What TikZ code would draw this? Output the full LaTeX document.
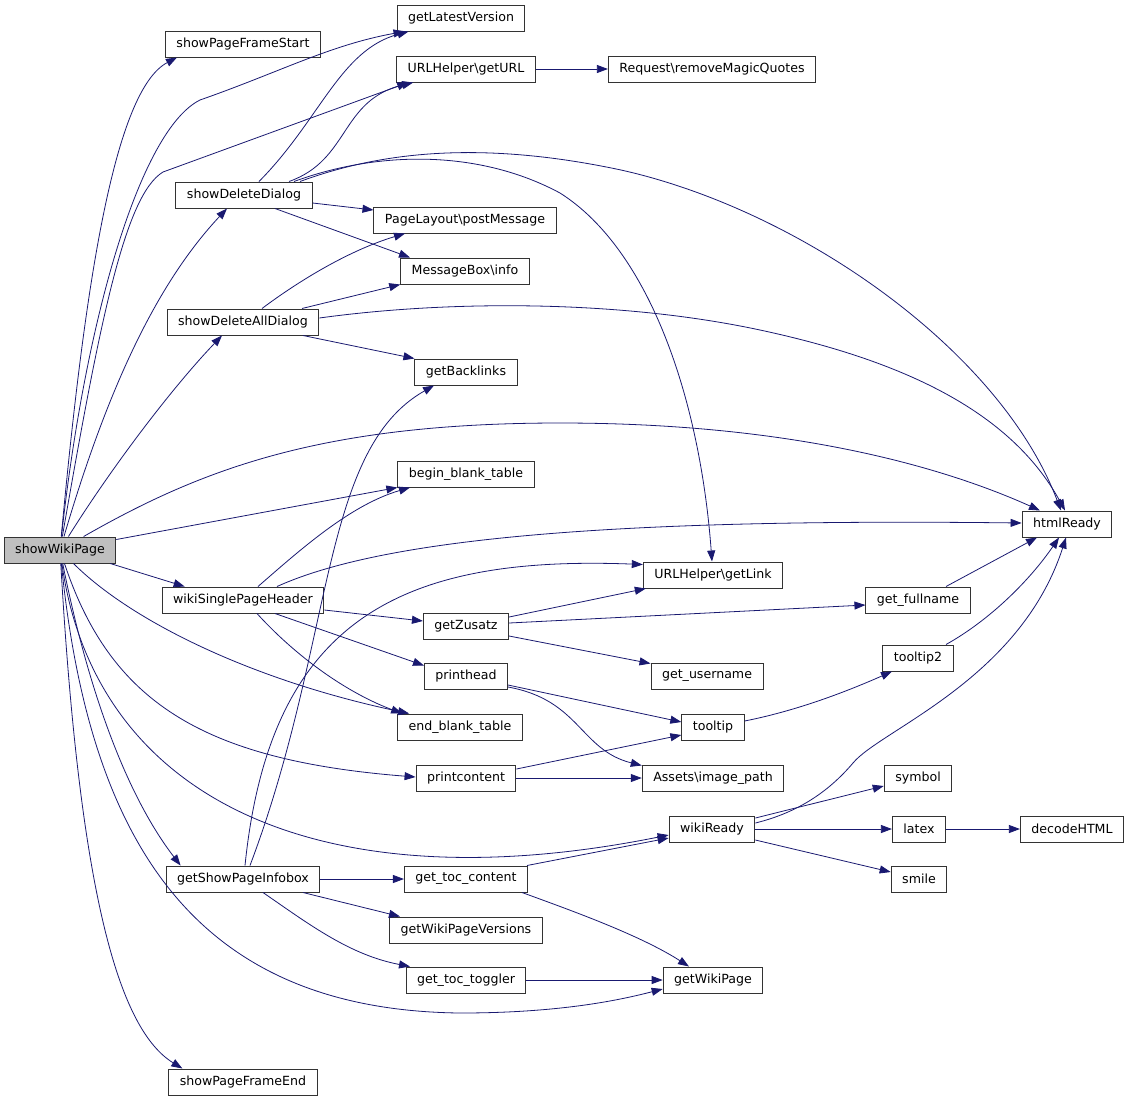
\documentclass[tikz,border=0pt]{standalone}
\usepackage{fontspec}
\setmainfont{DejaVu Sans}
\usetikzlibrary{arrows.meta}
\definecolor{edgeblue}{HTML}{191970}
\definecolor{rootgray}{HTML}{BFBFBF}

\begin{document}
\begin{tikzpicture}[x=1pt,y=-1pt,>={Triangle[length=11pt,width=8pt]}]
    \tikzstyle{func}=[draw=black!80,fill=white,line width=1pt,minimum height=26pt,inner xsep=11pt,inner ysep=0pt,font=\fontsize{12.6}{14}\selectfont]
    \tikzstyle{root func}=[func, fill=rootgray]
    \tikzstyle{call}=[->,draw=edgeblue,line width=0.8pt]

    \useasboundingbox (0,0) rectangle (1131,1101);

    % Draw the caller
    \node[root func] (showWikiPage) at (60,550) {showWikiPage};

    % Draw the first column of callees
    \node[func] (showPageFrameStart) at (243,44) {showPageFrameStart};
    \node[func] (showDeleteDialog) at (244,195) {showDeleteDialog};
    \node[func] (showDeleteAllDialog) at (243,322) {showDeleteAllDialog};
    \node[func] (wikiSinglePageHeader) at (243,600) {wikiSinglePageHeader};
    \node[func] (getShowPageInfobox) at (243,879) {getShowPageInfobox};
    \node[func] (showPageFrameEnd) at (243,1082) {showPageFrameEnd};

    % Draw the second column
    \node[func] (getLatestVersion) at (461,18) {getLatestVersion};
    \node[func] (urlGetURL) at (466,69) {URLHelper\textbackslash getURL};
    \node[func] (postMessage) at (465,220) {PageLayout\textbackslash postMessage};
    \node[func] (info) at (465,271) {MessageBox\textbackslash info};
    \node[func] (getBacklinks) at (466,372) {getBacklinks};
    \node[func] (beginBlankTable) at (466,474) {begin\_blank\_table};
    \node[func] (getZusatz) at (466,626) {getZusatz};
    \node[func] (printhead) at (466,676) {printhead};
    \node[func] (endBlankTable) at (460,727) {end\_blank\_table};
    \node[func] (printcontent) at (466,778) {printcontent};
    \node[func] (getTocContent) at (466,879) {get\_toc\_content};
    \node[func] (getWikiPageVersions) at (466,930) {getWikiPageVersions};
    \node[func] (getTocToggler) at (466,980) {get\_toc\_toggler};

    % Draw the third column
    \node[func] (removeMagicQuotes) at (712,69) {Request\textbackslash removeMagicQuotes};
    \node[func] (getLink) at (713,575) {URLHelper\textbackslash getLink};
    \node[func] (getUsername) at (707,676) {get\_username};
    \node[func] (tooltip) at (713,727) {tooltip};
    \node[func] (imagePath) at (713,778) {Assets\textbackslash image\_path};
    \node[func] (wikiReady) at (712,829) {wikiReady};
    \node[func] (getWikiPage) at (713,980) {getWikiPage};

    % Draw the last columns
    \node[func] (getFullname) at (918,600) {get\_fullname};
    \node[func] (tooltipTwo) at (918,658) {tooltip2};
    \node[func] (symbol) at (918,778) {symbol};
    \node[func] (latex) at (919,829) {latex};
    \node[func] (smile) at (919,879) {smile};
    \node[func] (htmlReady) at (1067,524) {htmlReady};
    \node[func] (decodeHTML) at (1072,829) {decodeHTML};

    % Calls of showWikiPage
    \draw[call] (showWikiPage) .. controls (85,280) and (115,90) .. ([xshift=12pt]showPageFrameStart.south west);
    \draw[call] (showWikiPage) .. controls (85,320) and (140,130) .. (200,100) .. controls (280,72) and (330,45) .. ([xshift=8pt]getLatestVersion.south west);
    \draw[call] (showWikiPage) .. controls (100,320) and (125,195) .. (163,172) -- ([xshift=12pt]urlGetURL.south west);
    \draw[call] (showWikiPage) .. controls (110,380) and (160,280) .. ([xshift=-17pt]showDeleteDialog.south);
    \draw[call] (showWikiPage) .. controls (110,470) and (170,390) .. ([xshift=-21pt]showDeleteAllDialog.south);
    \draw[call] (showWikiPage) .. controls (200,470) and (320,423) .. (560,423) .. controls (800,423) and (950,470) .. ([xshift=-27pt]htmlReady.north);
    \draw[call] ([yshift=-3pt]showWikiPage.north east) -- (beginBlankTable.south west);
    \draw[call] ([xshift=-6pt]showWikiPage.south east) -- ([xshift=23pt]wikiSinglePageHeader.north west);
    \draw[call] (showWikiPage) .. controls (130,620) and (250,680) .. ([xshift=12pt]endBlankTable.north west);
    \draw[call] (showWikiPage) .. controls (110,700) and (200,760) .. ([yshift=1pt]printcontent.west);
    \draw[call] (showWikiPage) .. controls (95,800) and (320,905) .. ([yshift=-6pt]wikiReady.west);
    \draw[call] (showWikiPage) .. controls (90,700) and (130,800) .. ([xshift=15pt]getShowPageInfobox.north west);
    \draw[call] (showWikiPage) .. controls (90,850) and (200,1010) .. (460,1013) .. controls (560,1013) and (620,1000) .. ([yshift=-9pt]getWikiPage.west);
    \draw[call] (showWikiPage) .. controls (80,900) and (120,1030) .. ([xshift=14pt]showPageFrameEnd.north west);

    % Calls of showDeleteDialog
    \draw[call] ([xshift=15pt]showDeleteDialog.north) .. controls (320,120) and (340,50) .. ([xshift=12pt]getLatestVersion.south west);
    \draw[call] ([xshift=45pt]showDeleteDialog.north) .. controls (350,160) and (340,100) .. ([xshift=17pt]urlGetURL.south west);
    \draw[call] ([xshift=56pt]showDeleteDialog.north) .. controls (380,152) and (480,140) .. (621,170) .. controls (800,210) and (1000,350) .. ([xshift=-6pt]htmlReady.north);
    \draw[call] ([xshift=50pt]showDeleteDialog.north) .. controls (380,150) and (480,150) .. (560,193) .. controls (650,250) and (700,400) .. ([xshift=-1pt]getLink.north);
    \draw[call] ([yshift=-8pt]showDeleteDialog.east) -- ([yshift=10pt]postMessage.west);
    \draw[call] ([xshift=31pt]showDeleteDialog.south) -- ([xshift=-55pt]info.north);

    % Calls of showDeleteAllDialog
    \draw[call] ([xshift=19pt]showDeleteAllDialog.north) .. controls (300,280) and (350,250) .. ([xshift=-60pt]postMessage.south);
    \draw[call] ([xshift=59pt]showDeleteAllDialog.north) -- (info.south west);
    \draw[call] ([yshift=4pt]showDeleteAllDialog.east) .. controls (450,300) and (620,300) .. (760,330) .. controls (900,360) and (1010,410) .. ([xshift=-2pt]htmlReady.north);
    \draw[call] ([xshift=60pt]showDeleteAllDialog.south) -- (getBacklinks.north west);

    % Calls of wikiSinglePageHeader
    \draw[call] ([xshift=15pt]wikiSinglePageHeader.north) .. controls (300,550) and (350,505) .. ([xshift=-56pt]beginBlankTable.south);
    \draw[call] ([xshift=34pt]wikiSinglePageHeader.north) .. controls (380,540) and (600,518) .. ([yshift=1pt]htmlReady.west);
    \draw[call] ([yshift=-10pt]wikiSinglePageHeader.east) -- ([yshift=5pt]getZusatz.west);
    \draw[call] ([xshift=32pt]wikiSinglePageHeader.south) -- ([yshift=-3pt]printhead.north west);
    \draw[call] ([xshift=14pt]wikiSinglePageHeader.south) .. controls (290,650) and (340,690) .. ([xshift=5pt]endBlankTable.north west);

    % Calls of getZusatz, printhead and printcontent
    \draw[call] ([yshift=9pt]getZusatz.east) -- ([xshift=3pt]getLink.south west);
    \draw[call] ([yshift=3pt]getZusatz.east) -- ([yshift=-5pt]getFullname.west);
    \draw[call] ([yshift=-10pt]getZusatz.east) -- ([yshift=-1pt]getUsername.north west);
    \draw[call] ([yshift=-9pt]printhead.east) -- ([yshift=5pt]tooltip.west);
    \draw[call] ([yshift=-11pt]printhead.east) .. controls (580,700) and (580,750) .. ([yshift=-1pt]imagePath.north west);
    \draw[call] ([yshift=9pt]printcontent.east) -- ([yshift=-8pt]tooltip.west);
    \draw[call] (printcontent) -- (imagePath);

    % Calls towards htmlReady
    \draw[call] ([yshift=6pt]tooltip.east) .. controls (800,710) and (850,690) .. ([xshift=-26pt]tooltipTwo.south);
    \draw[call] ([xshift=28pt]tooltipTwo.north) .. controls (990,620) and (1030,580) .. ([xshift=-8pt]htmlReady.south);
    \draw[call] ([xshift=28pt]getFullname.north) -- ([xshift=-30pt]htmlReady.south);
    \draw[call] ([yshift=6pt]wikiReady.east) .. controls (800,812) and (830,790) .. (853,763) .. controls (880,730) and (1020,680) .. ([xshift=-1pt]htmlReady.south);

    % Calls of wikiReady
    \draw[call] ([yshift=11pt]wikiReady.east) -- ([yshift=-8pt]symbol.west);
    \draw[call] (wikiReady) -- (latex);
    \draw[call] ([yshift=-11pt]wikiReady.east) -- ([yshift=7pt]smile.west);
    \draw[call] (latex) -- (decodeHTML);

    % Calls of getShowPageInfobox
    \draw[call] (getShowPageInfobox) -- (getTocContent);
    \draw[call] ([xshift=60pt]getShowPageInfobox.south) -- ([xshift=-66pt]getWikiPageVersions.north);
    \draw[call] ([xshift=20pt]getShowPageInfobox.south) .. controls (310,925) and (350,955) .. ([xshift=-56pt]getTocToggler.north);
    \draw[call] ([xshift=7pt]getShowPageInfobox.north) .. controls (335,640) and (320,450) .. ([xshift=-32pt]getBacklinks.south);
    \draw[call] ([xshift=2pt]getShowPageInfobox.north) .. controls (270,620) and (400,555) .. ([yshift=-3pt]getLink.north west);

    % Remaining calls
    \draw[call] ([xshift=61pt]getTocContent.north) -- ([yshift=-9pt]wikiReady.west);
    \draw[call] ([xshift=56pt]getTocContent.south) .. controls (570,910) and (640,935) .. ([xshift=-24pt]getWikiPage.north);
    \draw[call] (getTocToggler) -- (getWikiPage);
    \draw[call] (urlGetURL) -- (removeMagicQuotes);
\end{tikzpicture}
\end{document}
